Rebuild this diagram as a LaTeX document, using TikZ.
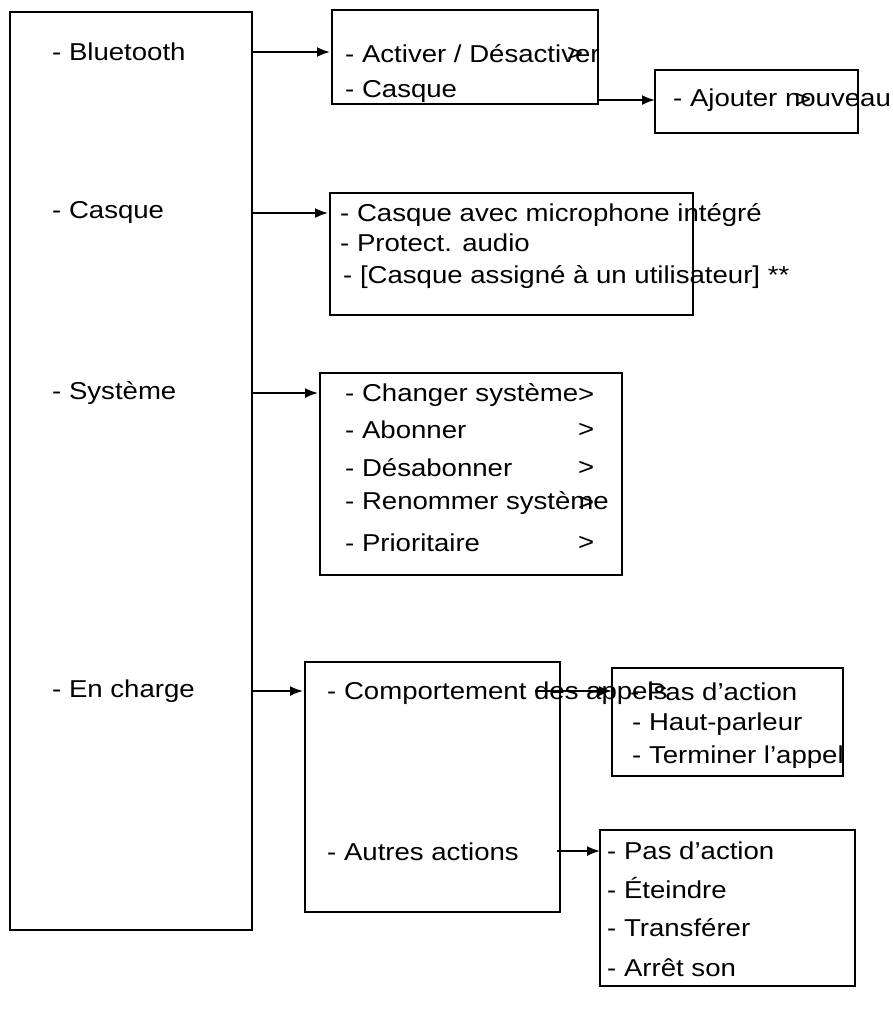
\documentclass[tikz,border=0pt]{standalone}
\usepackage{fontspec}
\setmainfont{Liberation Sans}
\usetikzlibrary{arrows.meta}
\newcommand\wtxt[1]{\scalebox{1.13}[1]{#1}}
\begin{document}
\begin{tikzpicture}[x=1bp,y=-1bp,
  box/.style={draw,line width=1.6bp},
  lbl/.style={anchor=west,inner sep=0pt,font=\fontsize{24.5}{26}\selectfont},
  arr/.style={line width=1.8bp,-{Latex[length=13bp,width=10bp]}}]
\useasboundingbox (0,0) rectangle (893,1018);
% boxes
\draw[box] (10,12) rectangle (252,930);
\draw[box] (332,10) rectangle (598,104);
\draw[box] (655,70) rectangle (858,133);
\draw[box] (330,193) rectangle (693,315);
\draw[box] (320,373) rectangle (622,575);
\draw[box] (305,662) rectangle (560,912);
\draw[box] (612,668) rectangle (843,776);
\draw[box] (600,830) rectangle (855,986);
% main list
\node[lbl] (bt) at (52,52) {\wtxt{- Bluetooth}};
\node[lbl] (ca) at (52,213) {\wtxt{- Casque}};
\node[lbl] (sy) at (52,393) {\wtxt{- Système}};
\node[lbl] (ec) at (52,691) {\wtxt{- En charge}};
% bluetooth box
\node[lbl] (act) at (345,54) {\wtxt{- Activer / Désactiver}};
\node[lbl] at (567,54) {\wtxt{>}};
\node[lbl] (cq) at (345,92) {\wtxt{- Casque}};
\node[lbl] (aj) at (673,100) {\wtxt{- Ajouter nouveau}};
\node[lbl] at (795,100) {\wtxt{>}};
% casque box
\node[lbl] (c1) at (340,215) {\wtxt{- Casque avec microphone intégré}};
\node[lbl] at (340,243) {\wtxt{- Protect. audio}};
\node[lbl] at (343,277) {\wtxt{- [Casque assigné à un utilisateur] **}};
% systeme
\node[lbl] (s1) at (345,395) {\wtxt{- Changer système}};
\node[lbl] at (345,430) {\wtxt{- Abonner}};
\node[lbl] at (345,468) {\wtxt{- Désabonner}};
\node[lbl] at (345,503) {\wtxt{- Renommer système}};
\node[lbl] at (345,543) {\wtxt{- Prioritaire}};
\foreach \y in {395,430,468,503,543} \node[lbl] at (578,\y) {\wtxt{>}};
% en charge
\node[lbl] (co) at (327,693) {\wtxt{- Comportement des appels}};
\node[lbl] (au) at (327,852) {\wtxt{- Autres actions}};
\node[lbl] (p1) at (630,692) {\wtxt{- Pas d'action}};
\node[lbl] at (632,724) {\wtxt{- Haut-parleur}};
\node[lbl] at (632,757) {\wtxt{- Terminer l’appel}};
\node[lbl] (q1) at (607,851) {\wtxt{- Pas d'action}};
\node[lbl] at (607,888) {\wtxt{- Éteindre}};
\node[lbl] at (607,928) {\wtxt{- Transférer}};
\node[lbl] at (607,968) {\wtxt{- Arrêt son}};
% arrows
\coordinate (a1s) at (252,52); \coordinate (a1e) at (330,52);
\coordinate (a2s) at (598,100); \coordinate (a2e) at (655,100);
\coordinate (a3s) at (252,213); \coordinate (a3e) at (328,213);
\coordinate (a4s) at (252,393); \coordinate (a4e) at (318,393);
\coordinate (a5s) at (252,691); \coordinate (a5e) at (303,691);
\coordinate (a6s) at (535,691); \coordinate (a6e) at (612,691);
\coordinate (a7s) at (557,851); \coordinate (a7e) at (600,851);
\draw[arr] (a1s) -- (a1e);
\draw[arr] (a2s) -- (a2e);
\draw[arr] (a3s) -- (a3e);
\draw[arr] (a4s) -- (a4e);
\draw[arr] (a5s) -- (a5e);
\draw[arr] (a6s) -- (a6e);
\draw[arr] (a7s) -- (a7e);
\end{tikzpicture}
\end{document}
